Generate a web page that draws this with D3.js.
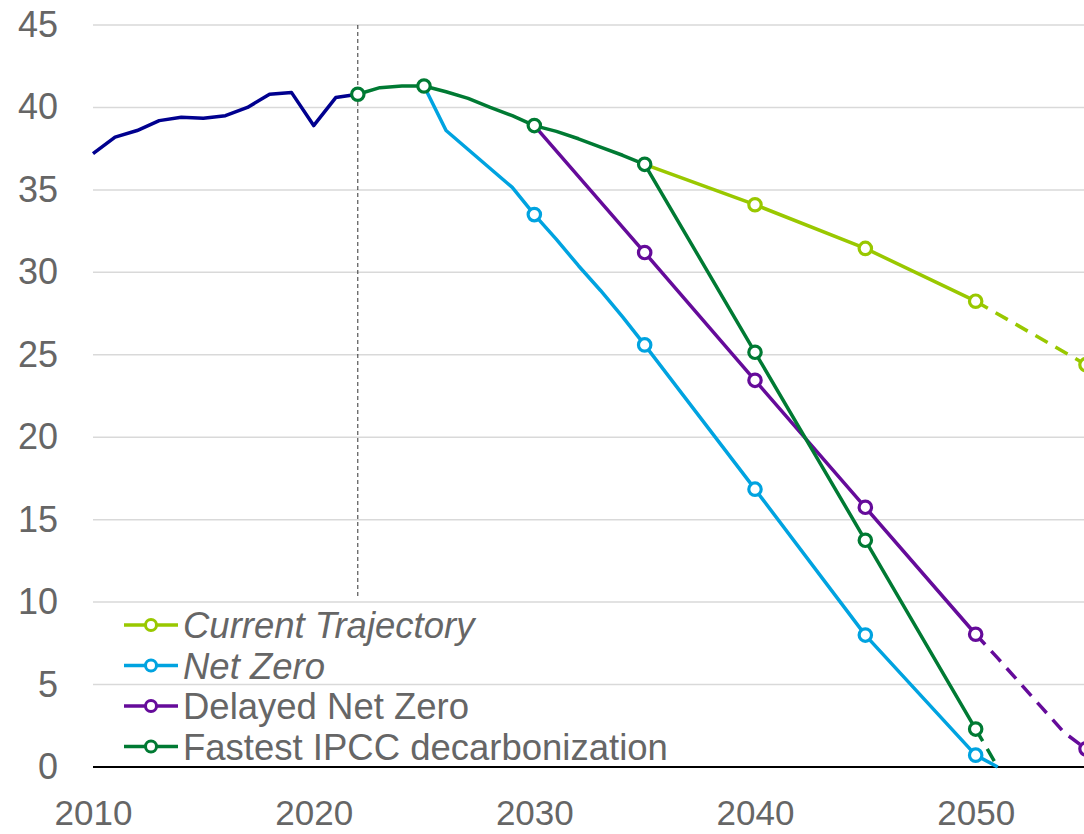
<!DOCTYPE html>
<html>
<head>
<meta charset="utf-8">
<script src="https://cdn.jsdelivr.net/npm/d3@7"></script>
<style>
  body { margin: 0; background: #fff; }
  svg { display: block; font-family: "Liberation Sans", Arial, sans-serif; }
</style>
</head>
<body>
<div id="chart"></div>
<script>
// historical emissions
var histYears = [2010, 2011, 2012, 2013, 2014, 2015, 2016, 2017, 2018, 2019, 2020, 2021, 2022];
var histValues = [37.2, 38.2, 38.6, 39.2, 39.4, 39.35, 39.5, 40.0, 40.8, 40.9, 38.9, 40.6, 40.8];

// path shared by the scenarios up to 2035
var sharedYears = [2022, 2023, 2024, 2025, 2026, 2027, 2028, 2029, 2030, 2031, 2032, 2033, 2034, 2035];
var sharedValues = [40.8, 41.2, 41.3, 41.3, 40.95, 40.55, 40.0, 39.5, 38.9, 38.55, 38.1, 37.6, 37.1, 36.55];

var currentYears = [2035, 2040, 2045, 2050, 2055];
var currentValues = [36.55, 34.1, 31.45, 28.25, 24.4];

var netZeroYears = [2025, 2026, 2027, 2028, 2029, 2030, 2031, 2032, 2033, 2034, 2035, 2040, 2045, 2050, 2051];
var netZeroValues = [41.3, 38.6, 37.45, 36.3, 35.15, 33.5, 32.0, 30.4, 28.9, 27.3, 25.6, 16.85, 8.0, 0.72, 0];

var delayedYears = [2030, 2035, 2040, 2045, 2050, 2051, 2052, 2053, 2054, 2055];
var delayedValues = [38.9, 31.2, 23.45, 15.75, 8.05, 6.6, 5.1, 3.6, 2.1, 1.1];

var fastestYears = sharedYears.concat([2040, 2045, 2050, 2051]);
var fastestValues = sharedValues.concat([25.15, 13.75, 2.3, 0]);

var yTicks = [0, 5, 10, 15, 20, 25, 30, 35, 40, 45];
var xTicks = [2010, 2020, 2030, 2040, 2050];
var splitYear = 2022;

var series = [
  {name: "Current Trajectory", italic: true, color: "#99c800", years: currentYears, values: currentValues, dashFrom: 2050, markers: [2040, 2045, 2050, 2055]},
  {name: "Net Zero", italic: true, color: "#00a3e0", years: netZeroYears, values: netZeroValues, dashFrom: null, markers: [2030, 2035, 2040, 2045, 2050]},
  {name: "Delayed Net Zero", italic: false, color: "#650b9a", years: delayedYears, values: delayedValues, dashFrom: 2050, markers: [2035, 2040, 2045, 2050, 2055]},
  {name: "Fastest IPCC decarbonization", italic: false, color: "#007a33", years: fastestYears, values: fastestValues, dashFrom: 2050, markers: [2022, 2025, 2030, 2035, 2040, 2045, 2050]}
];

var width = 1084, height = 834;

var x = d3.scaleLinear().domain([2010, 2055]).range([93, 1086]);
var y = d3.scaleLinear().domain([0, 45]).range([767, 25]);

var svg = d3.select("#chart").append("svg")
    .attr("width", width)
    .attr("height", height);

// gridlines
svg.append("g")
  .selectAll("line")
  .data(yTicks.filter(function(d) { return d > 0; }))
  .enter().append("line")
    .attr("x1", x(2010)).attr("x2", width)
    .attr("y1", function(d) { return y(d); })
    .attr("y2", function(d) { return y(d); })
    .attr("stroke", "#d9d9d9")
    .attr("stroke-width", 1.5);

// y axis labels
var yAxis = svg.append("g")
    .attr("transform", "translate(58,0)")
    .call(d3.axisLeft(y).tickValues(yTicks).tickSize(0).tickPadding(0));
yAxis.select(".domain").remove();
yAxis.selectAll("text")
    .attr("font-size", 36)
    .attr("fill", "#666")
    .attr("font-family", "Liberation Sans, Arial, sans-serif");

// x axis labels
var xAxis = svg.append("g")
    .attr("transform", "translate(0," + y(0) + ")")
    .call(d3.axisBottom(x).tickValues(xTicks).tickFormat(d3.format("d")).tickSize(0).tickPadding(33));
xAxis.select(".domain").remove();
xAxis.selectAll("text")
    .attr("font-size", 35)
    .attr("fill", "#666")
    .attr("font-family", "Liberation Sans, Arial, sans-serif");

// zero line
svg.append("line")
    .attr("x1", x(2010)).attr("x2", width)
    .attr("y1", y(0)).attr("y2", y(0))
    .attr("stroke", "#000")
    .attr("stroke-width", 2);

// 2022 marker line
svg.append("line")
    .attr("x1", x(splitYear)).attr("x2", x(splitYear))
    .attr("y1", y(45)).attr("y2", y(10.3))
    .attr("stroke", "#333")
    .attr("stroke-width", 1)
    .attr("stroke-dasharray", "4,3");

var line = d3.line()
    .x(function(d) { return x(d[0]); })
    .y(function(d) { return y(d[1]); });

svg.append("path")
    .datum(d3.zip(histYears, histValues))
    .attr("d", line)
    .attr("fill", "none")
    .attr("stroke", "#00008f")
    .attr("stroke-width", 3.5)
    .attr("stroke-linejoin", "round");

series.forEach(function(s) {
  var pts = d3.zip(s.years, s.values);
  var solid = s.dashFrom ? pts.filter(function(p) { return p[0] <= s.dashFrom; }) : pts;
  var dashed = s.dashFrom ? pts.filter(function(p) { return p[0] >= s.dashFrom; }) : [];
  svg.append("path")
      .datum(solid)
      .attr("d", line)
      .attr("fill", "none")
      .attr("stroke", s.color)
      .attr("stroke-width", 3.5)
      .attr("stroke-linejoin", "round");
  if (dashed.length) {
    svg.append("path")
        .datum(dashed)
        .attr("d", line)
        .attr("fill", "none")
        .attr("stroke", s.color)
        .attr("stroke-width", 3.5)
        .attr("stroke-dasharray", "14,9");
  }
});

series.forEach(function(s) {
  svg.append("g")
    .selectAll("circle")
    .data(s.markers)
    .enter().append("circle")
      .attr("cx", function(d) { return x(d); })
      .attr("cy", function(d) { return y(s.values[s.years.indexOf(d)]); })
      .attr("r", 6.2)
      .attr("fill", "#fff")
      .attr("stroke", s.color)
      .attr("stroke-width", 3.2);
});

// legend
var legend = svg.append("g");
var item = legend.selectAll("g")
    .data(series)
  .enter().append("g")
    .attr("transform", function(d, i) { return "translate(124," + (625 + i * 40.5) + ")"; });

item.append("line")
    .attr("x1", 0).attr("x2", 54)
    .attr("stroke", function(d) { return d.color; })
    .attr("stroke-width", 3.5);
item.append("circle")
    .attr("cx", 27).attr("r", 5.5)
    .attr("fill", "#fff")
    .attr("stroke", function(d) { return d.color; })
    .attr("stroke-width", 3);
item.append("text")
    .attr("x", 59)
    .attr("dy", "0.36em")
    .attr("font-size", 36.5)
    .attr("fill", "#666")
    .attr("font-style", function(d) { return d.italic ? "italic" : "normal"; })
    .text(function(d) { return d.name; });
</script>
</body>
</html>
